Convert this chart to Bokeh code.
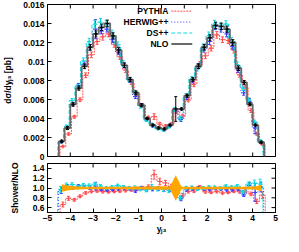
import numpy as np
from bokeh.plotting import figure
from bokeh.layouts import column
from bokeh.models import (Range1d, FixedTicker, CustomJSTickFormatter,
                          PrintfTickFormatter, Label)
from bokeh.embed import file_html
from bokeh.resources import INLINE

# ---------------- data ----------------
bin_edges = np.linspace(-4.5, 4.5, 37)
x_ticks = [-5, -4, -3, -2, -1, 0, 1, 2, 3, 4, 5]
main_yticks = [0, 0.002, 0.004, 0.006, 0.008, 0.010, 0.012, 0.014, 0.016]
ratio_yticks = [0.6, 0.8, 1.0, 1.2, 1.4]

nlo = [0.0016, 0.0030, 0.0055, 0.0072, 0.0095, 0.0115, 0.0129, 0.0136, 0.0140, 0.0127,
       0.0112, 0.0096, 0.0081, 0.0067, 0.0054, 0.0040, 0.0033, 0.0030, 0.0029, 0.0033,
       0.0050, 0.0050, 0.0064, 0.0081, 0.0095, 0.0115, 0.0125, 0.0138, 0.0137, 0.0134,
       0.0120, 0.0093, 0.0078, 0.0055, 0.0033, 0.0015]
nlo_err = [0.00012, 0.00015, 0.0002, 0.00022, 0.00025, 0.0003, 0.00032, 0.00034, 0.00035, 0.00032,
           0.0003, 0.00025, 0.00022, 0.0002, 0.00015, 0.00012, 0.0001, 0.0001, 0.0001, 0.0001,
           0.0013, 0.00012, 0.00016, 0.0002, 0.00024, 0.0003, 0.00032, 0.00034, 0.00034, 0.00033,
           0.0003, 0.00024, 0.0002, 0.00016, 0.0001, 0.0001]

pythia = [0.00106, 0.00237, 0.00418, 0.00598, 0.00855, 0.0107, 0.0121, 0.0126, 0.0129, 0.0118,
          0.0105, 0.0091, 0.0078, 0.0066, 0.0054, 0.0041, 0.0042, 0.0034, 0.0032, 0.0034,
          0.00475, 0.00425, 0.00595, 0.0076, 0.0097, 0.0106, 0.0114, 0.0128, 0.0123, 0.0122,
          0.0112, 0.0086, 0.0073, 0.00484, 0.0024, 0.00128]
pythia_err = [0.00008, 0.00012, 0.00015, 0.0002, 0.00025, 0.0003, 0.0003, 0.00035, 0.0003, 0.0003,
              0.00028, 0.00025, 0.00022, 0.0002, 0.00018, 0.00015, 0.0003, 0.0002, 0.00015, 0.00015,
              0.0002, 0.0002, 0.0002, 0.00025, 0.00028, 0.0003, 0.0003, 0.00035, 0.0003, 0.0003,
              0.0003, 0.00025, 0.00022, 0.0002, 0.00015, 0.0001]

herwig = [0.00152, 0.00309, 0.0055, 0.00749, 0.00969, 0.0115, 0.0134, 0.0132, 0.0134, 0.0123,
          0.0110, 0.0096, 0.0080, 0.0063, 0.0054, 0.0039, 0.00323, 0.00297, 0.00281, 0.00323,
          0.0049, 0.0039, 0.0062, 0.0080, 0.0095, 0.0113, 0.0121, 0.0137, 0.0134, 0.0129,
          0.0116, 0.0091, 0.0067, 0.0058, 0.0030, 0.00153]
herwig_err = [0.0001, 0.00012, 0.00015, 0.0002, 0.00025, 0.0003, 0.001, 0.0003, 0.0003, 0.0003,
              0.00028, 0.00025, 0.00022, 0.0002, 0.00018, 0.00015, 0.00012, 0.00012, 0.00012, 0.00015,
              0.0002, 0.0002, 0.0002, 0.00025, 0.00028, 0.0003, 0.0003, 0.00035, 0.0003, 0.0003,
              0.0003, 0.00025, 0.00025, 0.0003, 0.0006, 0.00015]

dspp = [0.00155, 0.00315, 0.00589, 0.00734, 0.01007, 0.01208, 0.01393, 0.01414, 0.0140, 0.01295,
        0.01176, 0.00979, 0.0081, 0.00677, 0.00529, 0.00384, 0.00337, 0.00294, 0.00281, 0.00314,
        0.00495, 0.0040, 0.0064, 0.00818, 0.00931, 0.0115, 0.01275, 0.01394, 0.0137, 0.01394,
        0.01224, 0.00967, 0.00718, 0.00594, 0.00363, 0.00162]
dspp_err = [0.0001, 0.00015, 0.0002, 0.00025, 0.0003, 0.00035, 0.0004, 0.0004, 0.00035, 0.00035,
            0.0003, 0.0003, 0.00025, 0.0002, 0.0002, 0.00015, 0.00015, 0.00012, 0.00012, 0.00015,
            0.0002, 0.0002, 0.00022, 0.00025, 0.0003, 0.00035, 0.00035, 0.0004, 0.00035, 0.00035,
            0.0003, 0.0003, 0.00025, 0.00025, 0.0002, 0.00015]

series_names = ["PYTHIA", "HERWIG++", "DS++", "NLO"]

# ---------------- style ----------------
FONT = "Liberation Sans"
FS = "8.5px"
C_PY, C_HW, C_DS, C_NLO = "#ff5050", "#3a3aff", "#10d8e0", "#6a6a6a"
DASH_PY, DASH_HW, DASH_DS = "2 1", "1 2", "4 2"
ORANGE = "#ffa500"
TICK = 8  # marker length; half of it shows inside the frame

nlo_a = np.array(nlo)
centers = 0.5 * (bin_edges[:-1] + bin_edges[1:])


def hist_xy(vals, shift=0.0):
    xs = [bin_edges[0] + shift]
    ys = [0.0]
    for i, v in enumerate(vals):
        xs += [bin_edges[i] + shift, bin_edges[i + 1] + shift]
        ys += [v, v]
    xs.append(bin_edges[-1] + shift)
    ys.append(0.0)
    return xs, ys


def errbars(p, vals, errs, shift, color, cap=3, mark=4):
    c = centers + shift
    v = np.asarray(vals)
    e = np.asarray(errs)
    p.segment(x0=c, y0=v - e, x1=c, y1=v + e, line_color=color, line_width=1)
    p.scatter(c, v + e, marker="dash", size=cap, line_color=color)
    p.scatter(c, v - e, marker="dash", size=cap, line_color=color)
    p.scatter(c, v, marker="cross", size=mark, line_color=color)


def style_axis(ax):
    ax.major_tick_in = 4
    ax.major_tick_out = 0
    ax.minor_tick_in = 0
    ax.minor_tick_out = 0
    ax.axis_line_color = "black"
    ax.major_tick_line_color = "black"
    ax.major_label_text_font = FONT
    ax.major_label_text_font_style = "bold"
    ax.major_label_text_font_size = FS
    ax.major_label_text_color = "black"
    ax.axis_label_text_font = FONT
    ax.axis_label_text_font_style = "bold"
    ax.axis_label_text_font_size = FS
    ax.axis_label_text_color = "black"
    ax.major_label_standoff = 3


def mirror_ticks(p, xt, yt, xr, yr, bottom=False):
    # inward ticks on the frame edges without labelled axes (clipped half-markers)
    edges_y = [yr[1]] + ([yr[0]] if bottom else [])
    for ey in edges_y:
        p.scatter(xt, [ey] * len(xt), marker="dash", angle=np.pi / 2, size=TICK,
                  line_color="black", line_width=1)
    p.scatter([xr[1]] * len(yt), yt, marker="dash", size=TICK, line_color="black", line_width=1)


def make_fig(h, yr, top, bottom):
    p = figure(width=283, height=h, x_range=Range1d(-5, 5), y_range=Range1d(*yr),
               output_backend="svg", toolbar_location=None,
               min_border_left=45, min_border_right=8,
               min_border_top=top, min_border_bottom=bottom)
    p.grid.visible = False
    p.outline_line_color = "black"
    p.background_fill_color = "white"
    p.border_fill_color = "white"
    return p


yfmt_main = CustomJSTickFormatter(code="return tick.toFixed(3).replace(/0+$/, '').replace(/\\.$/, '');")

# ---------------- main panel ----------------
yr1 = (0, 0.016)
p1 = make_fig(160, yr1, 4, 4)
p1.xaxis.visible = False
p1.yaxis.ticker = FixedTicker(ticks=main_yticks)
style_axis(p1.yaxis[0])
p1.yaxis.formatter = yfmt_main
p1.yaxis.axis_label = "dσ/dyⱼ₃ [pb]"
p1.yaxis.axis_label_standoff = 7

shows = [(pythia, pythia_err, C_PY, DASH_PY, 0.05),
         (herwig, herwig_err, C_HW, DASH_HW, -0.02),
         (dspp, dspp_err, C_DS, DASH_DS, -0.05)]

for vals, errs, col, dash, sh in shows:
    xs, ys = hist_xy(vals, sh)
    p1.line(xs, ys, line_color=col, line_dash=dash, line_width=1)
    errbars(p1, vals, errs, sh, col)

xs, ys = hist_xy(nlo)
p1.line(xs, ys, line_color=C_NLO, line_width=1.8)
errbars(p1, nlo, nlo_err, 0.0, "black")
mirror_ticks(p1, x_ticks, main_yticks, (-5, 5), yr1, bottom=True)

# legend (text right-aligned, sample to the right)
leg_text_x = 0.30
leg_x0, leg_x1 = 0.43, 1.35
leg_rows = [0.0153, 0.01415, 0.0130, 0.01185]
leg_styles = [(C_PY, DASH_PY, 1), (C_HW, DASH_HW, 1), (C_DS, DASH_DS, 1), (C_NLO, "solid", 2)]
for name, yrow, (col, dash, lw) in zip(series_names, leg_rows, leg_styles):
    p1.add_layout(Label(x=leg_text_x, y=yrow, text=name, text_align="right",
                        text_baseline="middle", text_font=FONT, text_font_style="bold",
                        text_font_size=FS, text_color="black"))
    p1.line([leg_x0, leg_x1], [yrow, yrow], line_color=col, line_dash=dash, line_width=lw)

# ---------------- ratio panel ----------------
yr2 = (0.5, 1.5)
p2 = make_fig(76, yr2, 3, 22)
p2.xaxis.ticker = FixedTicker(ticks=x_ticks)
p2.yaxis.ticker = FixedTicker(ticks=ratio_yticks)
style_axis(p2.xaxis[0])
style_axis(p2.yaxis[0])
p2.yaxis.formatter = PrintfTickFormatter(format="%.1f")
p2.xaxis.axis_label = "yⱼ₃"
p2.xaxis.axis_label_standoff = 0
p2.xaxis.major_label_standoff = 2
p2.yaxis.axis_label = "Shower/NLO"
p2.yaxis.axis_label_standoff = 10

for vals, errs, col, dash, sh in shows:
    r = np.asarray(vals) / nlo_a
    re = np.asarray(errs) / nlo_a
    xs, ys = hist_xy(r, sh)
    p2.line(xs, ys, line_color=col, line_dash=dash, line_width=1)
    errbars(p2, r, re, sh, col)

rel = np.asarray(nlo_err) / nlo_a
p2.varea(x=centers, y1=1 - rel, y2=1 + rel, fill_color=ORANGE, fill_alpha=1.0)
mirror_ticks(p2, x_ticks, ratio_yticks, (-5, 5), yr2)

layout = column(p1, p2, spacing=0)
open("out.html", "w").write(file_html(layout, INLINE))
